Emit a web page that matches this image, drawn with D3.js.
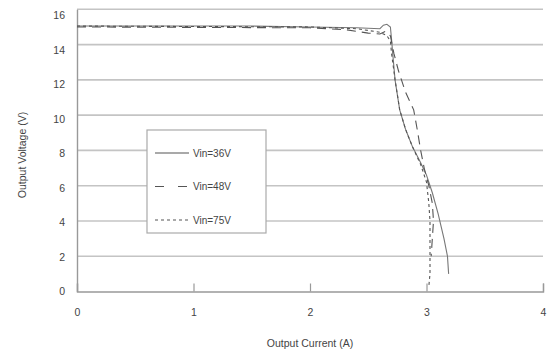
<!DOCTYPE html>
<html><head><meta charset="utf-8">
<script src="https://cdn.jsdelivr.net/npm/d3@7"></script>
<style>body{margin:0;background:#fff}svg{display:block}text{font-family:"Liberation Sans",Arial,sans-serif;fill:#444}</style>
</head><body>
<script>
const xTicks = [0,1,2,3,4];
const yTicks = [0,2,4,6,8,10,12,14,16];
const seriesNames = ["Vin=36V","Vin=48V","Vin=75V"];
const vin36 = [[0,15.05],[1.5,15.05],[2.0,15.0],[2.4,14.95],[2.6,14.9],[2.63,15.1],[2.66,15.15],[2.69,15.0],[2.7,14.3],[2.71,13.5],[2.73,12.0],[2.77,10.3],[2.82,9.2],[2.88,8.2],[2.95,7.3],[3.0,6.6],[3.05,5.6],[3.1,4.4],[3.15,3.0],[3.18,2.0],[3.19,1.0]];
const vin48 = [[0,15.0],[2.0,14.95],[2.3,14.85],[2.5,14.65],[2.6,14.6],[2.65,14.75],[2.69,14.5],[2.72,13.5],[2.76,12.5],[2.82,11.3],[2.89,10.3],[2.92,9.2],[2.95,8.0],[2.98,7.0],[3.02,6.0],[3.05,5.0],[3.06,4.0],[3.05,3.0],[3.04,2.0]];
const vin75 = [[0,15.05],[2.0,15.0],[2.4,14.9],[2.6,14.7],[2.66,14.5],[2.69,14.2],[2.7,13.5],[2.73,12.0],[2.77,10.3],[2.82,9.2],[2.88,8.2],[2.95,7.2],[3.0,6.2],[3.02,5.0],[3.03,4.0],[3.03,2.5],[3.03,1.0],[3.02,0.3]];
const dashes = [null,"9,6","3,3"];

const W=549,H=360;
const svg=d3.select("body").append("svg").attr("width",W).attr("height",H);
const x=d3.scaleLinear().domain([0,4]).range([77,543]);
const y=d3.scaleLinear().domain([0,16]).range([291.5,9.3]);

// gridlines
svg.append("g").selectAll("line").data(yTicks.filter(d=>d>0)).join("line")
 .attr("x1",x(0)).attr("x2",x(4)).attr("y1",d=>y(d)).attr("y2",d=>y(d))
 .attr("stroke","#c4c4c4").attr("stroke-width",1.6);

// x axis
const gx=svg.append("g").attr("transform",`translate(0,${y(0)})`)
 .call(d3.axisBottom(x).tickValues(xTicks).tickSize(-8).tickPadding(17).tickFormat(d3.format("d")));
gx.select(".domain").attr("stroke","#999").attr("stroke-width",1.4);
gx.selectAll(".tick line").attr("stroke","#999").attr("stroke-width",1.2);
gx.selectAll("text").attr("font-size",10.5).attr("fill","#444");

// y axis
const gy=svg.append("g").attr("transform",`translate(${x(0)},0)`)
 .call(d3.axisLeft(y).tickValues(yTicks).tickSize(0).tickPadding(12).tickFormat(d3.format("d")));
gy.select(".domain").attr("stroke","#999").attr("stroke-width",1.4);
gy.selectAll("text").attr("font-size",10.5).attr("fill","#444")
 .attr("dy",d=>(0.32+ (d/16)*0.6)+"em");

// lines
const line=d3.line().x(d=>x(d[0])).y(d=>y(d[1])).curve(d3.curveMonotoneY?d3.curveLinear:d3.curveLinear);
[vin36,vin48,vin75].forEach((s,i)=>{
 svg.append("path").datum(s).attr("d",line).attr("fill","none")
  .attr("stroke",i===0?"#777":"#555").attr("stroke-width",1.1)
  .attr("stroke-dasharray",dashes[i]);
});

// legend
const lg=svg.append("g");
lg.append("rect").attr("x",147).attr("y",130).attr("width",119).attr("height",103)
 .attr("fill","#fff").attr("stroke","#aaa").attr("stroke-width",1.2);
seriesNames.forEach((n,i)=>{
 const yy=153+i*33.5;
 lg.append("line").attr("x1",155).attr("x2",189).attr("y1",yy).attr("y2",yy)
  .attr("stroke","#555").attr("stroke-width",1.1).attr("stroke-dasharray",i===1?"9,14,9":dashes[i]);
 lg.append("text").attr("x",193).attr("y",yy+3.5).attr("font-size",10).text(n);
});

// axis titles
svg.append("text").attr("x",310).attr("y",347).attr("text-anchor","middle").attr("font-size",10.5).text("Output Current (A)");
svg.append("text").attr("transform","translate(26,155) rotate(-90)").attr("text-anchor","middle").attr("font-size",10.5).text("Output Voltage (V)");
</script>
</body></html>
